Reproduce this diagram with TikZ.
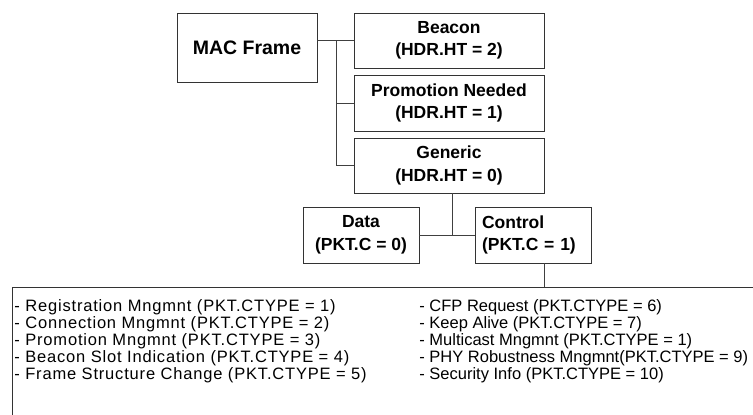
\documentclass[tikz,border=0pt]{standalone}
\usepackage{fontspec}
\setmainfont{Liberation Sans}
\newfontfamily\widesans[LetterSpace=5]{Liberation Sans}
\begin{document}
\begin{tikzpicture}[x=1bp,y=-1bp,
  line width=0.8bp,
  frame/.style={draw=black!80, line width=0.8bp, inner sep=0pt, align=center,
    font=\bfseries\fontsize{17.5bp}{22.5bp}\selectfont},
  bigframe/.style={frame, font=\bfseries\fontsize{19.5bp}{23bp}\selectfont},
  link/.style={draw=black!75, line width=0.8bp},
  itemcol/.style={anchor=north west, align=left, inner sep=0pt,
    font=\fontsize{16.5bp}{17bp}\selectfont}
]
\useasboundingbox (0,0) rectangle (753,414);
\clip (0,0) rectangle (753,414);

% frame hierarchy
\node[bigframe, minimum width=140bp, minimum height=69bp] (mac) at (247,47.5) {MAC Frame};
\node[frame, minimum width=190bp, minimum height=55bp] (beacon) at (449,40.5) {Beacon\\(HDR.HT = 2)};
\node[frame, minimum width=190bp, minimum height=56bp] (promo) at (449,103) {Promotion Needed\\(HDR.HT = 1)};
\node[frame, minimum width=190bp, minimum height=55bp] (gen) at (449,165.5) {Generic\\(HDR.HT = 0)};
\node[frame, minimum width=116bp, minimum height=56bp] (data) at (361,235) {Data\\(PKT.C = 0)};
\node[frame, minimum width=116bp, minimum height=56bp, align=left, text width=102bp] (ctrl) at (533,235) {Control\\(PKT.C = 1)};

% control message types
\node[draw=black!80, line width=0.8bp, anchor=north west, minimum width=780bp, minimum height=160bp, inner sep=0pt] (list) at (12,287) {};
\node[itemcol, font=\widesans\fontsize{16.5bp}{17bp}\selectfont] (colA) at (14,299) {- Registration Mngmnt (PKT.CTYPE = 1)\\
- Connection Mngmnt (PKT.CTYPE = 2)\\
- Promotion Mngmnt (PKT.CTYPE = 3)\\
- Beacon Slot Indication (PKT.CTYPE = 4)\\
- Frame Structure Change (PKT.CTYPE = 5)};
\node[itemcol] (colB) at (419,299) {- CFP Request (PKT.CTYPE = 6)\\
- Keep Alive (PKT.CTYPE = 7)\\
- Multicast Mngmnt (PKT.CTYPE = 1)\\
- PHY Robustness Mngmnt(PKT.CTYPE = 9)\\
- Security Info (PKT.CTYPE = 10)};

% connectors
\coordinate (bus) at (336,40.5);
\path[link] (mac.east |- beacon.west) -- (beacon.west);
\path[link] (bus) -- (bus |- gen.west) -- (gen.west);
\path[link] (bus |- promo.west) -- (promo.west);
\path[link] ([xshift=3bp]gen.south) -- ([xshift=3bp]gen.south |- data.east);
\path[link] (data.east) -- (ctrl.west);
\path[link] (ctrl.south -| gen.east) -- (list.north -| gen.east);
\end{tikzpicture}
\end{document}
